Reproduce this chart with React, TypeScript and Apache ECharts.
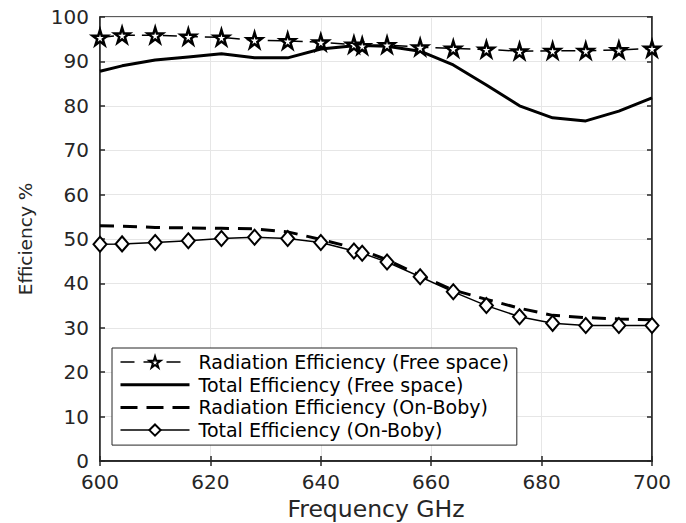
import React, { useEffect, useRef } from "react";
import * as echarts from "echarts";

const freqs = [600, 604, 610, 616, 622, 628, 634, 640, 646, 647.5, 652, 658, 664, 670, 676, 682, 688, 694, 700];
const radFree = [95.4, 95.9, 95.9, 95.6, 95.4, 94.8, 94.6, 94.3, 93.8, 93.5, 93.7, 93.2, 92.9, 92.7, 92.3, 92.4, 92.4, 92.6, 92.9];
const totFree = [87.8, 89.0, 90.3, 91.0, 91.7, 90.8, 90.8, 92.8, 93.5, 93.6, 93.4, 92.3, 89.2, 84.7, 80.0, 77.3, 76.6, 78.8, 81.8];
const radBody = [53.0, 52.9, 52.6, 52.5, 52.4, 52.3, 51.6, 49.9, 48.0, 47.5, 45.3, 41.8, 38.5, 36.4, 34.4, 32.8, 32.3, 32.0, 31.8];
const totBody = [48.8, 48.9, 49.2, 49.6, 50.1, 50.4, 50.1, 49.2, 47.3, 46.8, 44.8, 41.5, 38.1, 35.0, 32.5, 31.0, 30.5, 30.5, 30.5];

const seriesNames = [
  "Radiation Efficiency (Free space)",
  "Total Efficiency (Free space)",
  "Radiation Efficiency (On-Boby)",
  "Total Efficiency (On-Boby)",
];
const xTicks = { min: 600, max: 700, interval: 20 };
const yTicks = { min: 0, max: 100, interval: 10 };

const STAR = "path://M50,0 L61,35 L98,35 L68,57 L79,91 L50,70 L21,91 L32,57 L2,35 L39,35 Z";
const FONT = "DejaVu Sans";
const AX = "#262626";

const pairs = (ys: number[]) => freqs.map((f, i) => [f, ys[i]]);

export default function App() {
  const ref = useRef<HTMLDivElement>(null);
  useEffect(() => {
    if (!ref.current) return;
    const chart = echarts.init(ref.current, undefined, { renderer: "svg" });
    const baseAxis = {
      axisLine: { show: true, lineStyle: { color: AX, width: 1.5 } },
      axisTick: { show: true, inside: true, length: 5, lineStyle: { color: AX, width: 1.5 } },
    };
    const hidden = { opacity: 0, color: "transparent", borderWidth: 0 };
    chart.setOption({
      animation: false,
      backgroundColor: "#fff",
      grid: {
        left: 100,
        right: 34,
        top: 17,
        bottom: 62,
        containLabel: false,
        outerBoundsMode: "none",
        show: true,
        borderColor: AX,
        borderWidth: 1.5,
        backgroundColor: "#fff",
      },
      legend: {
        orient: "vertical",
        left: 112,
        top: 348,
        padding: [4, 8, 5, 7],
        itemWidth: 69,
        itemHeight: 14,
        itemGap: 2.7,
        borderColor: AX,
        borderWidth: 1,
        backgroundColor: "#fff",
        textStyle: { fontFamily: FONT, fontSize: 19, color: "#000", lineHeight: 20, padding: [0, 0, 0, 4] },
        data: [
          { name: seriesNames[0], lineStyle: { width: 1.5, type: [14, 9] } },
          { name: seriesNames[1], itemStyle: hidden, lineStyle: { width: 3 } },
          { name: seriesNames[2], itemStyle: hidden, lineStyle: { width: 3, type: [17, 9] } },
          { name: seriesNames[3], lineStyle: { width: 1.5 } },
        ],
      },
      xAxis: [
        {
          type: "value",
          ...xTicks,
          position: "bottom",
          ...baseAxis,
          name: "Frequency GHz",
          nameLocation: "middle",
          nameGap: 28,
          nameTextStyle: { fontFamily: FONT, fontSize: 23.5, color: AX },
          axisLabel: { fontFamily: FONT, fontSize: 20, color: AX, margin: 13, lineHeight: 16 },
          splitLine: { show: true, lineStyle: { color: "#e6e6e6", width: 1 } },
        },
        {
          type: "value",
          ...xTicks,
          position: "top",
          ...baseAxis,
          axisLabel: { show: false },
          splitLine: { show: false },
        },
      ],
      yAxis: [
        {
          type: "value",
          ...yTicks,
          position: "left",
          ...baseAxis,
          name: "Efficiency %",
          nameLocation: "middle",
          nameGap: 65,
          nameTextStyle: { fontFamily: FONT, fontSize: 18.5, color: AX },
          axisLabel: { fontFamily: FONT, fontSize: 20, color: AX, margin: 11, lineHeight: 16 },
          splitLine: { show: true, lineStyle: { color: "#e6e6e6", width: 1 } },
        },
        {
          type: "value",
          ...yTicks,
          position: "right",
          ...baseAxis,
          axisLabel: { show: false },
          splitLine: { show: false },
        },
      ],
      series: [
        {
          name: seriesNames[0],
          type: "line",
          data: pairs(radFree),
          symbol: STAR,
          symbolSize: 15,
          showAllSymbol: true,
          itemStyle: { color: "#fff", borderColor: "#000", borderWidth: 2.5 },
          lineStyle: { color: "#000", width: 1.5, type: [14, 7] },
          z: 4,
        },
        {
          name: seriesNames[1],
          type: "line",
          data: pairs(totFree),
          symbol: "none",
          lineStyle: { color: "#000", width: 3 },
          itemStyle: { color: "#000" },
          z: 3,
        },
        {
          name: seriesNames[2],
          type: "line",
          data: pairs(radBody),
          symbol: "none",
          lineStyle: { color: "#000", width: 3, type: [14, 9] },
          itemStyle: { color: "#000" },
          z: 3,
        },
        {
          name: seriesNames[3],
          type: "line",
          data: pairs(totBody),
          symbol: "diamond",
          symbolSize: [13, 15],
          showAllSymbol: true,
          itemStyle: { color: "#fff", borderColor: "#000", borderWidth: 2 },
          lineStyle: { color: "#000", width: 1.5 },
          z: 4,
        },
      ],
    });
    return () => chart.dispose();
  }, []);
  return <div ref={ref} style={{ width: 686, height: 523, position: "absolute", left: 0, top: 0 }} />;
}
